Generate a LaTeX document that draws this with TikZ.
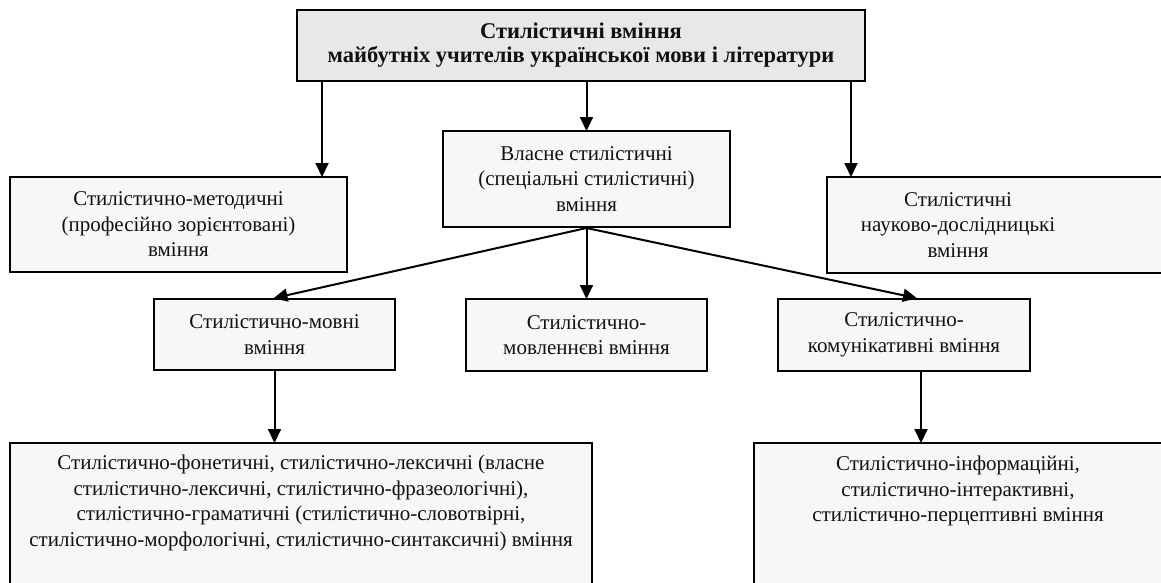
\documentclass[tikz,border=0pt]{standalone}
\usepackage{fontspec}
\setmainfont{Liberation Serif}
\usetikzlibrary{arrows.meta}
\definecolor{boxfill}{HTML}{F7F7F7}
\definecolor{headfill}{HTML}{E8E8E8}
\definecolor{inktext}{HTML}{111111}
\begin{document}
\begin{tikzpicture}[x=1pt,y=-1pt,
  box/.style={draw=black, line width=2pt, fill=boxfill, rectangle, inner sep=0pt},
  txt/.style={align=center, text=inktext, font=\fontsize{21}{25.5}\selectfont, inner sep=0pt},
  arr/.style={-{Triangle[length=14pt,width=13pt]}, line width=2pt, shorten >=-1pt}
]
\useasboundingbox (0,0) rectangle (1161,582);
\clip (0,0) rectangle (1161,582);
\fill[white] (0,0) rectangle (1161,582);

% top level
\node[box, fill=headfill, minimum width=568pt, minimum height=71pt, txt, font=\bfseries\fontsize{22.5}{24}\selectfont] (top) at (581,45.5)
  {Стилістичні вміння\\майбутніх учителів української мови і літератури};

% second level
\node[box, minimum width=337pt, minimum height=95pt, txt] (met) at (178.5,224.5)
  {Стилістично-методичні\\(професійно зорієнтовані)\\вміння};
\node[box, minimum width=287pt, minimum height=96pt, txt] (vl) at (586.5,179)
  {Власне стилістичні\\(спеціальні стилістичні)\\вміння};
\node[box, minimum width=360pt, minimum height=96pt] (nauk) at (1007,225) {};
\node[txt] (naukt) at (958,225) {Стилістичні\\науково-дослідницькі\\вміння};

% third level
\node[box, minimum width=241pt, minimum height=71pt, txt] (movni) at (274.5,334.5)
  {Стилістично-мовні\\вміння};
\node[box, minimum width=241pt, minimum height=72pt, txt] (movl) at (586.5,335)
  {Стилістично-\\мовленнєві вміння};
\node[box, minimum width=252pt, minimum height=72pt, txt] (kom) at (904,335)
  {Стилістично-\\комунікативні вміння};

% bottom level
\node[box, minimum width=582pt, minimum height=160pt] (bl) at (301,523) {};
\node[txt, anchor=north] (blt) at (301,455)
  {Стилістично-фонетичні, стилістично-лексичні (власне\\
   стилістично-лексичні, стилістично-фразеологічні),\\
   стилістично-граматичні (стилістично-словотвірні,\\
   стилістично-морфологічні, стилістично-синтаксичні) вміння};
\node[box, minimum width=440pt, minimum height=160pt] (br) at (974,523) {};
\node[txt, anchor=north] (brt) at (958,456)
  {Стилістично-інформаційні,\\стилістично-інтерактивні,\\стилістично-перцептивні вміння};

% connectors
\draw[arr] (top.south -| 322,0) -- (met.north -| 322,0);
\draw[arr] (top.south -| vl.north) -- (vl.north);
\draw[arr] (top.south -| 851,0) -- (nauk.north -| 851,0);
\draw[arr] (vl.south) -- (movni.north);
\draw[arr] (vl.south) -- (movl.north);
\draw[arr] (vl.south) -- (kom.north -| 916,0);
\draw[arr] (movni.south) -- (bl.north -| movni.south);
\draw[arr] (kom.south -| 921,0) -- (br.north -| 921,0);
\end{tikzpicture}
\end{document}
